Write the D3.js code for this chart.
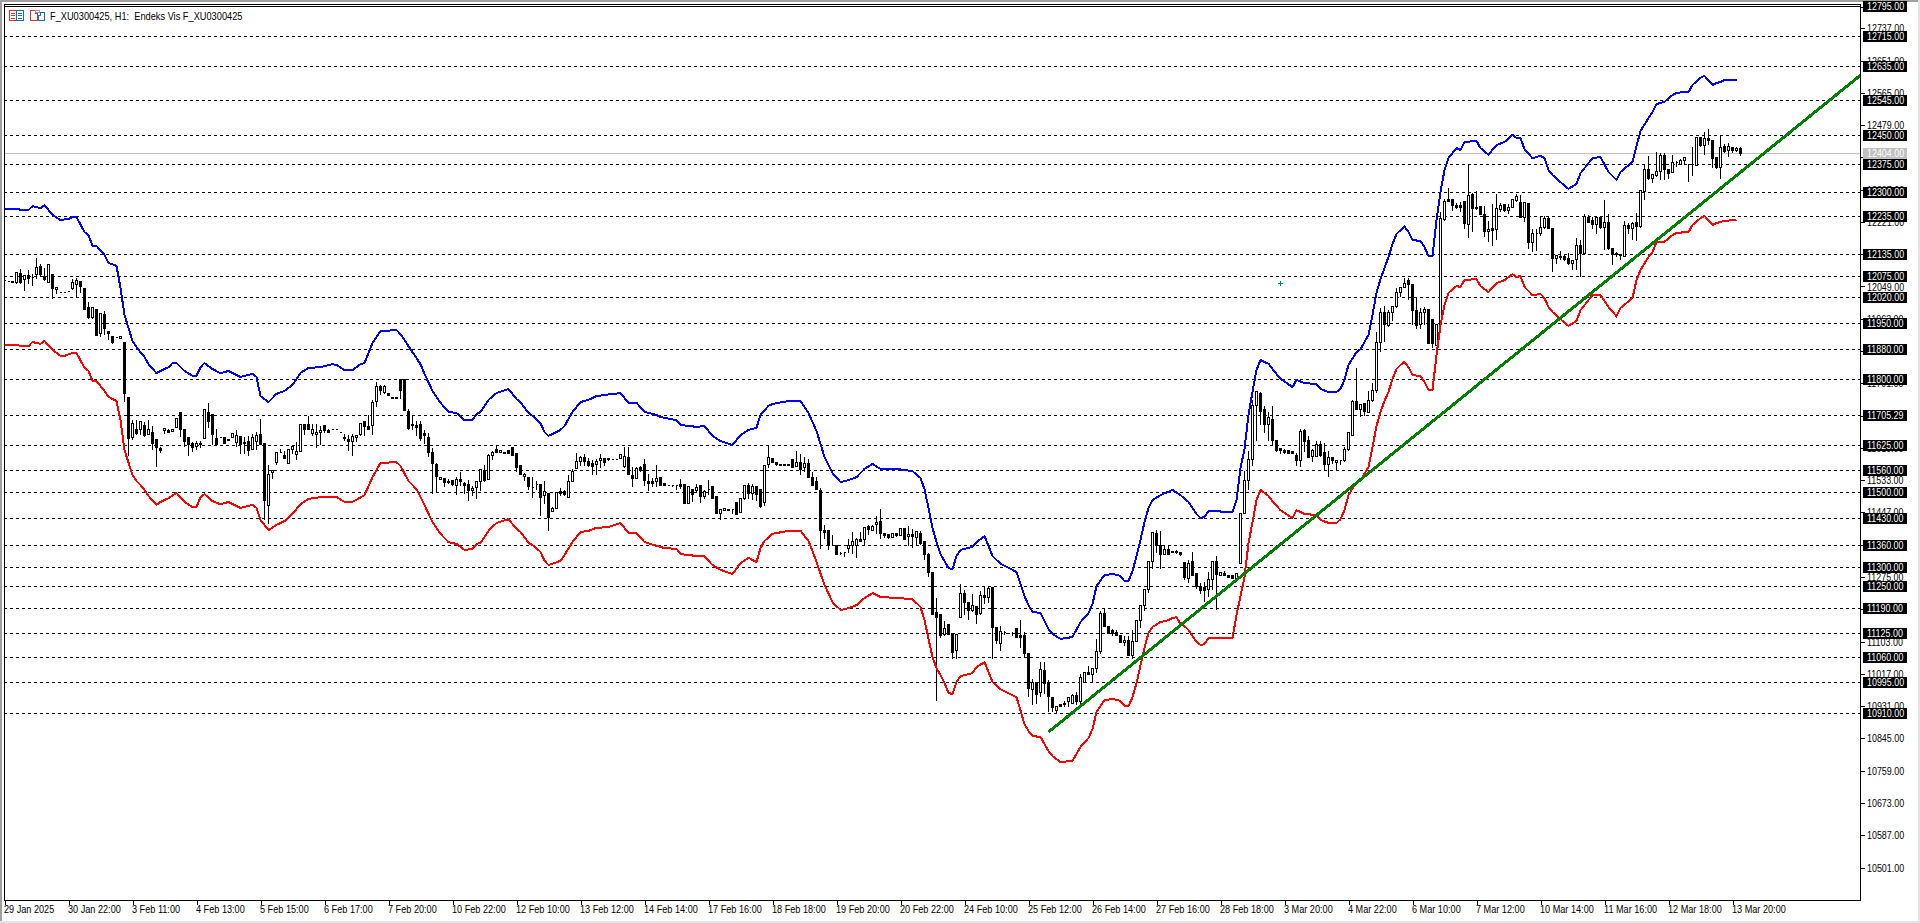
<!DOCTYPE html>
<html>
<head>
<meta charset="utf-8">
<title>F_XU0300425 H1</title>
<script src="https://cdn.jsdelivr.net/npm/d3@7"></script>
<style>
html, body { margin: 0; padding: 0; background: #fff; overflow: hidden; }
svg { display: block; }
text { font-family: "Liberation Sans", sans-serif; font-size: 11px; white-space: pre; }
</style>
</head>
<body>
<svg width="1920" height="923"></svg>
<script>
const width = 1920, height = 923;
const frameLeft = 4, frameTop = 4, frameRight = 1860, frameBottom = 900;
const svg = d3.select("svg");

const chartTitle = "F_XU0300425, H1:  Endeks Vis F_XU0300425";

// hourly candles
const opens = [
  12065,12063,12063,12060,12084,12068,12077,12074,12081,12102,
  12076,12059,12082,12041,12034,12034,12036,12043,12054,12063,
  12044,11992,11966,11989,11924,11975,11930,11915,11914,11911,
  11900,11752,11646,11669,11667,11679,11654,11660,11642,11618,
  11665,11664,11663,11673,11714,11669,11648,11631,11624,11631,
  11645,11714,11709,11645,11647,11647,11642,11647,11633,11650,
  11633,11637,11615,11636,11654,11630,11466,11554,11580,11607,
  11598,11577,11615,11602,11609,11680,11680,11658,11654,11660,
  11679,11664,11669,11669,11661,11647,11642,11636,11648,11654,
  11688,11675,11679,11743,11783,11767,11765,11754,11754,11800,
  11800,11715,11682,11678,11680,11658,11647,11607,11576,11535,
  11537,11530,11533,11519,11535,11523,11522,11505,11513,11530,
  11558,11535,11599,11616,11607,11607,11613,11620,11603,11573,
  11543,11541,11514,11522,11522,11493,11497,11450,11457,11502,
  11503,11487,11530,11563,11583,11594,11583,11578,11574,11585,
  11591,11592,11588,11589,11590,11569,11594,11545,11537,11567,
  11576,11530,11529,11529,11539,11525,11519,11518,11518,11522,
  11522,11470,11509,11505,11520,11489,11509,11517,11489,11445,
  11453,11455,11455,11474,11446,11485,11520,11498,11517,11507,
  11473,11576,11591,11580,11575,11575,11576,11588,11569,11580,
  11566,11578,11541,11529,11506,11400,11398,11359,11359,11338,
  11340,11350,11360,11360,11376,11375,11409,11400,11414,11424,
  11391,11387,11380,11390,11386,11404,11383,11389,11381,11391,
  11369,11336,11288,11181,11176,11123,11149,11125,11079,11167,
  11231,11207,11187,11196,11178,11225,11221,11247,11141,11098,
  11127,11124,11124,11138,11118,11118,11072,10976,10993,10967,
  11027,10994,10954,10919,10936,10937,10942,10937,10960,10942,
  10995,11021,11014,11032,11076,11178,11143,11132,11128,11119,
  11100,11106,11067,11103,11160,11198,11242,11315,11392,11358,
  11336,11349,11344,11344,11340,11313,11271,11315,11283,11249,
  11246,11242,11269,11315,11280,11285,11279,11278,11271,11311,
  11445,11533,11587,11733,11765,11720,11680,11695,11638,11618,
  11613,11612,11609,11599,11585,11664,11640,11596,11597,11629,
  11608,11574,11594,11580,11585,11585,11615,11653,11743,11722,
  11736,11713,11745,11772,11900,11980,11944,11979,11995,12033,
  12047,12064,12055,11985,11948,11980,11988,11962,11893,11949,
  12228,12280,12280,12266,12265,12275,12213,12293,12260,12262,
  12242,12195,12204,12201,12255,12268,12251,12259,12278,12272,
  12233,12271,12166,12191,12189,12207,12229,12204,12123,12129,
  12129,12123,12109,12120,12158,12136,12233,12226,12214,12233,
  12207,12220,12150,12136,12133,12130,12211,12204,12220,12209,
  12302,12361,12338,12346,12356,12399,12362,12352,12380,12375,
  12386,12373,12373,12372,12446,12425,12444,12438,12393,12366,
  12422,12411,12420,12411,12417
];
const highs = [
  12070,12064,12063,12090,12098,12081,12095,12084,12127,12109,
  12100,12108,12082,12047,12034,12034,12036,12071,12074,12063,
  12044,12010,11993,11989,11979,11984,11933,11915,11914,11916,
  11900,11752,11695,11695,11690,11689,11694,11678,11642,11623,
  11671,11671,11669,11701,11714,11669,11648,11635,11640,11640,
  11725,11741,11709,11671,11647,11647,11642,11658,11667,11650,
  11649,11651,11658,11663,11696,11630,11574,11560,11607,11618,
  11612,11614,11624,11636,11682,11685,11704,11685,11683,11678,
  11679,11671,11669,11669,11661,11658,11654,11658,11654,11685,
  11692,11709,11747,11797,11789,11787,11765,11754,11754,11800,
  11800,11724,11705,11693,11691,11668,11661,11620,11581,11544,
  11537,11537,11535,11542,11555,11529,11535,11520,11529,11562,
  11576,11604,11613,11626,11616,11607,11615,11620,11603,11573,
  11553,11541,11544,11532,11522,11533,11497,11462,11501,11514,
  11507,11547,11565,11606,11600,11605,11594,11587,11591,11605,
  11594,11594,11588,11589,11602,11622,11624,11569,11569,11573,
  11591,11551,11541,11576,11539,11525,11519,11518,11518,11538,
  11522,11516,11509,11525,11520,11507,11535,11517,11489,11455,
  11458,11455,11455,11474,11485,11522,11527,11525,11520,11507,
  11572,11627,11591,11583,11575,11575,11578,11588,11613,11603,
  11596,11592,11556,11542,11514,11414,11398,11387,11359,11342,
  11340,11378,11396,11381,11396,11409,11416,11416,11440,11458,
  11391,11390,11391,11390,11403,11407,11411,11403,11400,11398,
  11369,11341,11288,11221,11176,11159,11149,11125,11122,11258,
  11242,11207,11231,11196,11240,11251,11249,11247,11143,11147,
  11132,11124,11129,11138,11162,11129,11073,11005,10993,11050,
  11050,11003,10954,10929,10936,10945,10954,10965,10969,11018,
  11020,11039,11032,11111,11185,11194,11143,11138,11134,11119,
  11118,11118,11135,11160,11200,11242,11317,11394,11402,11400,
  11360,11360,11344,11347,11342,11315,11322,11342,11283,11260,
  11262,11289,11315,11333,11287,11292,11279,11278,11285,11444,
  11560,11613,11747,11773,11768,11733,11715,11731,11638,11621,
  11618,11612,11609,11606,11671,11671,11653,11618,11640,11640,
  11633,11612,11596,11585,11589,11622,11660,11747,11834,11734,
  11738,11773,11793,11929,11993,11999,11988,11995,12047,12049,
  12074,12074,12055,12022,11994,11995,11988,11962,11949,12248,
  12284,12313,12280,12273,12275,12275,12375,12299,12306,12262,
  12266,12226,12271,12297,12272,12268,12269,12280,12296,12295,
  12272,12271,12204,12204,12235,12238,12235,12204,12132,12145,
  12133,12139,12117,12180,12173,12244,12240,12235,12233,12233,
  12282,12244,12150,12142,12136,12225,12219,12222,12246,12308,
  12373,12397,12347,12408,12406,12406,12362,12402,12386,12391,
  12393,12373,12423,12448,12448,12461,12469,12438,12393,12453,
  12431,12433,12423,12422,12422
];
const lows = [
  12061,12062,12059,12058,12058,12038,12056,12052,12071,12077,
  12066,12059,12017,12031,12034,12034,12036,12040,12020,12033,
  11988,11965,11964,11918,11915,11922,11907,11896,11914,11911,
  11742,11600,11642,11654,11654,11649,11654,11615,11569,11607,
  11658,11661,11663,11673,11649,11623,11599,11609,11615,11621,
  11645,11674,11627,11627,11647,11631,11639,11647,11624,11605,
  11605,11600,11615,11614,11628,11427,11417,11538,11574,11606,
  11591,11577,11605,11587,11609,11654,11667,11651,11621,11627,
  11660,11660,11669,11669,11661,11640,11611,11599,11636,11651,
  11652,11669,11654,11729,11760,11765,11758,11750,11750,11751,
  11718,11668,11667,11651,11638,11631,11596,11498,11501,11535,
  11516,11525,11520,11496,11520,11498,11478,11491,11484,11505,
  11529,11535,11587,11607,11607,11604,11603,11600,11556,11547,
  11532,11509,11488,11507,11438,11471,11398,11450,11457,11493,
  11493,11487,11530,11563,11573,11573,11569,11547,11549,11567,
  11572,11585,11588,11589,11590,11567,11547,11517,11537,11555,
  11520,11505,11517,11516,11520,11519,11519,11516,11509,11511,
  11470,11470,11476,11502,11473,11485,11495,11484,11445,11429,
  11453,11453,11445,11442,11446,11482,11485,11482,11478,11460,
  11466,11567,11580,11573,11572,11572,11572,11567,11569,11548,
  11556,11540,11520,11509,11351,11378,11349,11359,11334,11334,
  11329,11340,11338,11327,11369,11360,11387,11400,11391,11378,
  11381,11378,11380,11384,11386,11375,11360,11354,11360,11362,
  11322,11276,11176,10946,11114,11120,11123,11058,11058,11167,
  11174,11162,11183,11150,11174,11205,11207,11058,11098,11079,
  11123,11124,11119,11114,11087,11063,10956,10936,10938,10956,
  10965,10916,10916,10910,10929,10929,10929,10937,10934,10938,
  10995,11014,10994,11020,11072,11143,11125,11120,11119,11100,
  11093,11067,11058,11103,11141,11187,11233,11298,11340,11298,
  11336,11336,11340,11338,11331,11269,11260,11278,11245,11231,
  11209,11224,11242,11189,11278,11278,11274,11272,11271,11311,
  11445,11507,11573,11640,11680,11661,11640,11627,11609,11603,
  11605,11603,11603,11571,11569,11609,11594,11582,11597,11597,
  11562,11542,11578,11560,11574,11583,11613,11653,11720,11702,
  11706,11713,11743,11766,11875,11902,11942,11958,11994,12022,
  12047,12015,11949,11938,11937,11947,11898,11887,11891,11947,
  12225,12275,12251,12257,12249,12204,12180,12195,12255,12240,
  12182,12169,12158,12173,12250,12249,12244,12259,12275,12233,
  12222,12149,12142,12146,12186,12204,12204,12089,12111,12120,
  12117,12108,12095,12093,12075,12136,12220,12204,12191,12204,
  12148,12148,12108,12129,12122,12129,12191,12173,12171,12207,
  12280,12335,12326,12342,12333,12333,12337,12352,12368,12373,
  12376,12328,12346,12372,12422,12402,12426,12367,12364,12337,
  12407,12395,12407,12408,12399
];
const closes = [
  12065,12063,12059,12087,12059,12079,12071,12074,12100,12080,
  12068,12108,12043,12047,12034,12034,12036,12060,12066,12049,
  11988,11967,11993,11918,11978,11936,11923,11901,11914,11916,
  11765,11644,11685,11656,11690,11653,11669,11630,11621,11612,
  11671,11661,11669,11698,11667,11636,11627,11619,11631,11627,
  11720,11689,11654,11627,11647,11631,11639,11658,11653,11629,
  11631,11612,11647,11653,11628,11478,11547,11560,11607,11607,
  11591,11614,11623,11610,11682,11667,11667,11669,11661,11664,
  11664,11660,11669,11669,11661,11644,11636,11650,11651,11685,
  11676,11669,11741,11783,11772,11783,11758,11750,11750,11773,
  11718,11671,11678,11673,11644,11652,11606,11577,11542,11541,
  11528,11526,11521,11535,11529,11518,11505,11511,11529,11562,
  11533,11599,11608,11607,11612,11604,11603,11600,11566,11547,
  11549,11515,11514,11522,11487,11502,11433,11458,11501,11498,
  11496,11530,11557,11583,11593,11582,11572,11569,11583,11591,
  11581,11587,11588,11589,11602,11597,11547,11537,11565,11560,
  11531,11523,11525,11538,11520,11519,11519,11518,11518,11517,
  11471,11516,11495,11514,11489,11503,11509,11484,11445,11455,
  11458,11453,11455,11442,11485,11520,11498,11517,11495,11462,
  11572,11594,11580,11574,11572,11572,11572,11567,11580,11562,
  11578,11540,11520,11509,11398,11393,11360,11359,11334,11338,
  11340,11360,11370,11375,11369,11407,11401,11410,11421,11390,
  11386,11380,11391,11386,11403,11375,11389,11382,11395,11365,
  11334,11287,11176,11168,11120,11138,11123,11073,11122,11231,
  11207,11187,11199,11176,11227,11221,11245,11140,11105,11129,
  11127,11124,11124,11114,11114,11072,10978,10993,10963,11029,
  10992,10956,10928,10929,10931,10934,10954,10958,10942,11008,
  11020,11014,11032,11076,11178,11143,11125,11125,11119,11100,
  11106,11067,11104,11159,11198,11242,11315,11394,11358,11335,
  11349,11336,11340,11339,11336,11273,11311,11278,11249,11240,
  11238,11269,11315,11281,11287,11279,11274,11272,11283,11444,
  11533,11587,11733,11768,11715,11680,11699,11638,11612,11612,
  11608,11603,11603,11585,11663,11637,11594,11613,11629,11600,
  11574,11594,11585,11585,11585,11615,11660,11743,11722,11734,
  11715,11745,11772,11900,11979,11949,11979,11995,12033,12047,
  12058,12054,11985,11945,11980,11988,11898,11896,11949,12229,
  12275,12275,12264,12259,12259,12216,12292,12257,12256,12240,
  12195,12201,12198,12256,12265,12251,12260,12280,12290,12233,
  12272,12166,12191,12191,12207,12229,12204,12123,12132,12125,
  12120,12111,12117,12157,12136,12235,12220,12214,12233,12207,
  12220,12151,12133,12133,12131,12212,12204,12218,12209,12304,
  12362,12336,12347,12356,12399,12360,12350,12380,12380,12386,
  12392,12373,12373,12446,12424,12444,12438,12389,12367,12420,
  12408,12422,12411,12417,12404
];

// envelope lines: bar number and price at each readable vertex
const upperBars = [0,2,6,7,9,10,12,14,16,17,18,20,21,22,23,25,26,28,29,30,32,33,34,35,36,38,39,41,42,43,45,47,48,49,50,52,54,56,59,62,63,64,66,68,70,72,74,76,79,82,83,85,87,89,90,92,94,98,99,102,104,105,107,109,111,113,115,117,118,119,121,123,126,128,129,131,132,134,135,136,138,139,140,142,144,146,148,150,154,156,158,160,163,164,168,169,173,175,176,177,179,182,184,186,188,189,191,192,196,199,201,202,203,205,207,209,211,213,215,217,219,223,227,229,230,231,232,233,234,236,237,238,239,242,243,245,247,249,252,253,255,256,257,259,261,262,264,267,269,271,272,273,275,277,279,280,281,282,283,284,285,286,287,289,292,294,296,298,299,300,301,307,308,309,310,311,312,313,314,316,317,319,322,323,325,328,329,331,333,334,335,336,338,339,341,342,343,344,345,346,347,348,349,350,351,352,354,355,356,357,358,359,360,361,363,364,365,368,369,371,373,375,377,378,379,380,382,384,385,386,387,389,391,393,394,397,399,401,403,404,407,408,409,411,412,413,415,417,418,420,421,422,424,425,427,428,429,430,432,433];
const upperBand = [12255,12255,12253,12263,12258,12266,12240,12226,12229,12234,12234,12194,12186,12157,12157,12133,12112,12104,12045,11973,11904,11888,11874,11861,11842,11818,11824,11834,11845,11845,11824,11811,11811,11834,11845,11829,11818,11824,11808,11816,11808,11757,11741,11763,11771,11787,11819,11832,11834,11842,11840,11826,11826,11842,11845,11898,11930,11933,11922,11874,11842,11816,11771,11739,11715,11712,11693,11693,11709,11715,11747,11765,11776,11749,11741,11712,11704,11685,11661,11651,11661,11667,11677,11715,11741,11747,11757,11760,11765,11739,11739,11715,11707,11701,11693,11680,11675,11677,11664,11651,11637,11627,11653,11667,11672,11707,11731,11736,11744,11744,11712,11688,11664,11595,11552,11528,11533,11541,11563,11576,11563,11563,11557,11539,11509,11459,11406,11368,11336,11299,11296,11331,11347,11355,11368,11384,11331,11310,11294,11288,11224,11200,11182,11179,11136,11123,11110,11115,11155,11179,11203,11251,11280,11283,11278,11264,11264,11291,11331,11374,11421,11459,11480,11493,11507,11493,11475,11443,11432,11435,11451,11448,11480,11565,11616,11707,11768,11827,11853,11843,11829,11803,11781,11800,11792,11789,11776,11768,11768,11776,11800,11840,11874,11882,11920,11973,12032,12069,12098,12128,12162,12189,12199,12208,12194,12173,12170,12154,12130,12130,12226,12301,12359,12391,12418,12413,12434,12437,12418,12400,12426,12434,12453,12445,12445,12415,12391,12397,12391,12359,12346,12327,12309,12322,12351,12391,12394,12354,12333,12354,12381,12423,12463,12498,12514,12535,12541,12559,12565,12567,12567,12586,12605,12610,12586,12591,12594,12599,12599,12599];
const lowerBars = [0,2,6,7,9,10,12,14,15,17,18,20,21,22,23,25,26,28,29,30,32,33,34,35,36,38,39,41,43,45,47,48,49,50,52,54,56,59,62,63,64,66,68,70,72,74,76,79,83,85,87,90,92,94,98,99,101,103,105,107,109,111,113,115,117,118,119,121,123,126,128,129,131,132,134,135,136,139,140,142,144,146,148,151,154,156,158,160,163,165,168,169,173,175,176,177,179,182,184,186,188,189,190,192,196,199,201,202,203,205,207,209,211,213,215,217,219,223,227,229,230,231,232,233,234,235,236,237,238,239,242,243,245,247,249,252,253,255,256,257,259,261,262,264,267,269,271,272,273,275,277,279,280,281,282,283,284,285,286,287,289,291,292,293,294,295,296,297,298,299,300,301,307,308,309,310,311,312,313,314,316,317,319,322,323,325,328,329,331,333,334,335,336,338,339,341,342,343,344,345,346,347,348,349,350,351,352,354,355,356,357,358,359,360,361,363,364,365,368,369,371,373,375,377,378,379,380,382,384,385,386,387,389,391,393,394,397,399,401,403,404,407,408,409,411,412,413,415,417,418,421,422,424,425,427,428,429,430,433];
const lowerBand = [11893,11893,11890,11901,11896,11904,11880,11864,11864,11872,11872,11832,11824,11797,11797,11771,11755,11744,11693,11613,11547,11531,11520,11507,11491,11467,11475,11485,11499,11475,11461,11461,11488,11496,11477,11469,11475,11459,11467,11459,11427,11400,11414,11424,11443,11469,11483,11488,11488,11475,11475,11493,11541,11579,11581,11571,11531,11509,11467,11421,11390,11368,11363,11347,11350,11363,11366,11398,11419,11429,11403,11395,11366,11360,11342,11318,11307,11318,11334,11368,11395,11398,11406,11408,11419,11392,11392,11368,11358,11352,11350,11336,11331,11331,11318,11307,11294,11283,11312,11326,11315,11352,11371,11390,11398,11398,11371,11344,11315,11254,11208,11187,11192,11200,11219,11232,11222,11219,11216,11195,11160,11110,11062,11032,11014,10992,10966,10963,10995,11011,11019,11035,11048,10995,10976,10960,10955,10883,10865,10851,10849,10811,10798,10782,10785,10822,10846,10870,10915,10947,10950,10945,10931,10931,10955,10992,11040,11086,11126,11142,11155,11160,11166,11168,11150,11144,11134,11118,11102,11094,11096,11112,11112,11174,11224,11275,11365,11421,11480,11507,11491,11477,11453,11432,11453,11443,11440,11427,11419,11419,11429,11453,11493,11528,11533,11568,11621,11677,11715,11744,11768,11803,11829,11840,11848,11834,11813,11810,11795,11773,11773,11866,11946,12000,12032,12050,12048,12066,12069,12050,12034,12058,12066,12082,12074,12077,12048,12026,12029,12018,11994,11981,11962,11944,11957,11986,12026,12026,11994,11970,11992,12018,12066,12093,12128,12141,12168,12168,12186,12192,12194,12213,12231,12237,12213,12218,12221,12224,12226];

// trend line, runs off to the right edge
const trendBars = [261, 464];
const trendValues = [10862, 12612];

// horizontal levels
const levelPrices = [12715,12635,12545,12450,12375,12300,12235,12135,12075,12020,11950,11880,11800,11705.29,11625,11560,11500,11430,11360,11300,11250,11190,11125,11060,10995,10910];
const topLevel = 12795;
const bidPrice = 12404;
const markBar = 319, markPrice = 12058;

const priceTicks = [12795,12737,12651,12565,12479,12393,12307,12221,12135,12049,11963,11877,11791,11705,11619,11533,11447,11361,11275,11189,11103,11017,10931,10845,10759,10673,10587,10501];
const timeTickBars = d3.range(0, 433, 16);
const timeLabels = ["29 Jan 2025","30 Jan 22:00","3 Feb 11:00","4 Feb 13:00","5 Feb 15:00","6 Feb 17:00","7 Feb 20:00","10 Feb 22:00","12 Feb 10:00","13 Feb 12:00","14 Feb 14:00","17 Feb 16:00","18 Feb 18:00","19 Feb 20:00","20 Feb 22:00","24 Feb 10:00","25 Feb 12:00","26 Feb 14:00","27 Feb 16:00","28 Feb 18:00","3 Mar 20:00","4 Mar 22:00","6 Mar 10:00","7 Mar 12:00","10 Mar 14:00","11 Mar 16:00","12 Mar 18:00","13 Mar 20:00"];

const xScale = d3.scaleLinear().domain([0, 464]).range([4.5, 1860.5]);
const yScale = d3.scaleLinear().domain([12795, 10501]).range([6.5, 867.5]);
const snap = v => Math.round(v - 0.5) + 0.5;

// the terminal's font is narrower than anything installed, so squeeze the glyphs
function squeeze(selection, factor) {
    selection.each(function () {
        this.setAttribute("textLength", this.getComputedTextLength() * factor);
        this.setAttribute("lengthAdjust", "spacingAndGlyphs");
    });
}

// window edge
svg.append("rect").attr("width", width).attr("height", height).attr("fill", "#fff");
svg.append("g").attr("shape-rendering", "crispEdges").selectAll("rect")
    .data([[0, 0, width, 2, "#a0a0a0"], [0, 0, 2, height, "#a0a0a0"], [width - 2, 0, 2, height, "#e4e4e4"], [0, height - 2, width, 2, "#e4e4e4"]])
    .join("rect")
    .attr("x", d => d[0]).attr("y", d => d[1]).attr("width", d => d[2]).attr("height", d => d[3]).attr("fill", d => d[4]);

// price levels
const plot = svg.append("g").attr("shape-rendering", "crispEdges");
plot.selectAll(".level")
    .data(levelPrices)
    .join("line")
    .attr("class", "level")
    .attr("x1", frameLeft).attr("x2", frameRight)
    .attr("y1", d => snap(yScale(d))).attr("y2", d => snap(yScale(d)))
    .attr("stroke", "#000")
    .attr("stroke-dasharray", "3,3");

plot.append("line")
    .attr("x1", frameLeft).attr("x2", frameRight)
    .attr("y1", snap(yScale(topLevel))).attr("y2", snap(yScale(topLevel)))
    .attr("stroke", "#000");

plot.append("line")
    .attr("x1", frameLeft).attr("x2", frameRight)
    .attr("y1", snap(yScale(bidPrice))).attr("y2", snap(yScale(bidPrice)))
    .attr("stroke", "#c0c0c0");

// candles
const bars = d3.range(opens.length);
const candles = plot.append("g");
candles.selectAll(".wick")
    .data(bars)
    .join("line")
    .attr("class", "wick")
    .attr("x1", i => xScale(i)).attr("x2", i => xScale(i))
    .attr("y1", i => snap(yScale(highs[i]))).attr("y2", i => snap(yScale(lows[i])))
    .attr("stroke", "#000");

candles.selectAll(".body")
    .data(bars)
    .join("path")
    .attr("class", "body")
    .attr("d", i => {
        const x0 = xScale(i) - 1, x1 = xScale(i) + 1;
        const y0 = snap(yScale(Math.max(opens[i], closes[i])));
        const y1 = snap(yScale(Math.min(opens[i], closes[i])));
        return `M${x0},${y0}H${x1}V${y1}H${x0}Z`;
    })
    .attr("fill", i => closes[i] > opens[i] ? "#fff" : "#000")
    .attr("stroke", "#000");

// envelopes
const bandLine = barList => d3.line()
    .x((d, k) => xScale(barList[k]))
    .y(d => yScale(d));

plot.append("path")
    .attr("d", bandLine(upperBars)(upperBand))
    .attr("fill", "none").attr("stroke", "#0000ff").attr("stroke-width", 2);

plot.append("path")
    .attr("d", bandLine(lowerBars)(lowerBand))
    .attr("fill", "none").attr("stroke", "#ff0000").attr("stroke-width", 2);

// trend line
plot.append("path")
    .attr("d", bandLine(trendBars)(trendValues))
    .attr("fill", "none").attr("stroke", "#008000").attr("stroke-width", 3);

// small teal cross left on the chart
plot.append("path")
    .attr("d", `M${xScale(markBar) - 2.5},${snap(yScale(markPrice))}h5M${xScale(markBar)},${snap(yScale(markPrice)) - 2.5}v5`)
    .attr("stroke", "#008080").attr("fill", "none");

// frame
plot.append("rect")
    .attr("x", frameLeft + 0.5).attr("y", frameTop + 0.5)
    .attr("width", frameRight - frameLeft).attr("height", frameBottom - frameTop)
    .attr("fill", "none").attr("stroke", "#000");

// axes
const xAxis = d3.axisBottom(xScale)
    .tickValues(timeTickBars)
    .tickFormat((d, k) => timeLabels[k])
    .tickSizeOuter(0).tickSize(5);

const xAxisG = svg.append("g")
    .attr("transform", `translate(0, ${frameBottom})`)
    .call(xAxis);
xAxisG.select(".domain").remove();
xAxisG.selectAll("line").attr("stroke", "#000").attr("shape-rendering", "crispEdges");
xAxisG.attr("font-family", null).attr("font-size", null);
xAxisG.selectAll("text")
    .attr("text-anchor", "start").attr("x", -1).attr("y", 5).attr("dy", "0.71em")
    .attr("fill", "#000")
    .call(squeeze, 0.83);

const yAxis = d3.axisRight(yScale)
    .tickValues(priceTicks)
    .tickFormat(d3.format(".2f"))
    .tickSizeOuter(0).tickSize(5);

const yAxisG = svg.append("g")
    .attr("transform", `translate(${frameRight}, 0)`)
    .call(yAxis);
yAxisG.select(".domain").remove();
yAxisG.selectAll("line").attr("stroke", "#000").attr("shape-rendering", "crispEdges");
yAxisG.attr("font-family", null).attr("font-size", null);
yAxisG.selectAll("text").attr("x", 7).attr("fill", "#000").call(squeeze, 0.81);

// labels on the price levels
const tags = svg.append("g");
const tagRows = [topLevel, ...levelPrices].map(p => ({ price: p, fill: "#000" }))
    .concat([{ price: bidPrice, fill: "#c0c0c0" }])
    .sort((a, b) => d3.descending(a.price, b.price));

tagRows.forEach(row => {
    const yPos = snap(yScale(row.price));
    tags.append("rect")
        .attr("x", frameRight + 3).attr("y", yPos - 5.5)
        .attr("width", 44).attr("height", 11)
        .attr("fill", row.fill).attr("shape-rendering", "crispEdges");
    tags.append("text")
        .attr("x", frameRight + 7).attr("y", yPos).attr("dy", "0.36em")
        .attr("fill", "#fff")
        .text(row.price.toFixed(2))
        .call(squeeze, 0.81);
});

// title and the two small icons
svg.append("text")
    .attr("x", 50).attr("y", 20)
    .attr("fill", "#000")
    .text(chartTitle)
    .call(squeeze, 0.84);

const icons = svg.append("g").attr("shape-rendering", "crispEdges").attr("fill", "none");
icons.append("rect").attr("x", 9.5).attr("y", 10.5).attr("width", 7).attr("height", 10).attr("stroke", "#e03030");
icons.append("rect").attr("x", 16.5).attr("y", 10.5).attr("width", 7).attr("height", 10).attr("stroke", "#1070c0");
[13, 15.5, 18].forEach(yy => {
    icons.append("path").attr("d", `M11,${yy}h4`).attr("stroke", "#e03030");
    icons.append("path").attr("d", `M18,${yy}h4`).attr("stroke", "#1070c0");
});
icons.append("path").attr("d", "M30.5,10.5h5v3h2v7h-7Z").attr("stroke", "#e03030");
icons.append("path").attr("d", "M40.5,12.5h4v8h-6v-5h2Z").attr("stroke", "#1070c0");
icons.append("rect").attr("x", 35.5).attr("y", 10.5).attr("width", 4).attr("height", 2).attr("stroke", "#a0a0a0");
</script>
</body>
</html>
